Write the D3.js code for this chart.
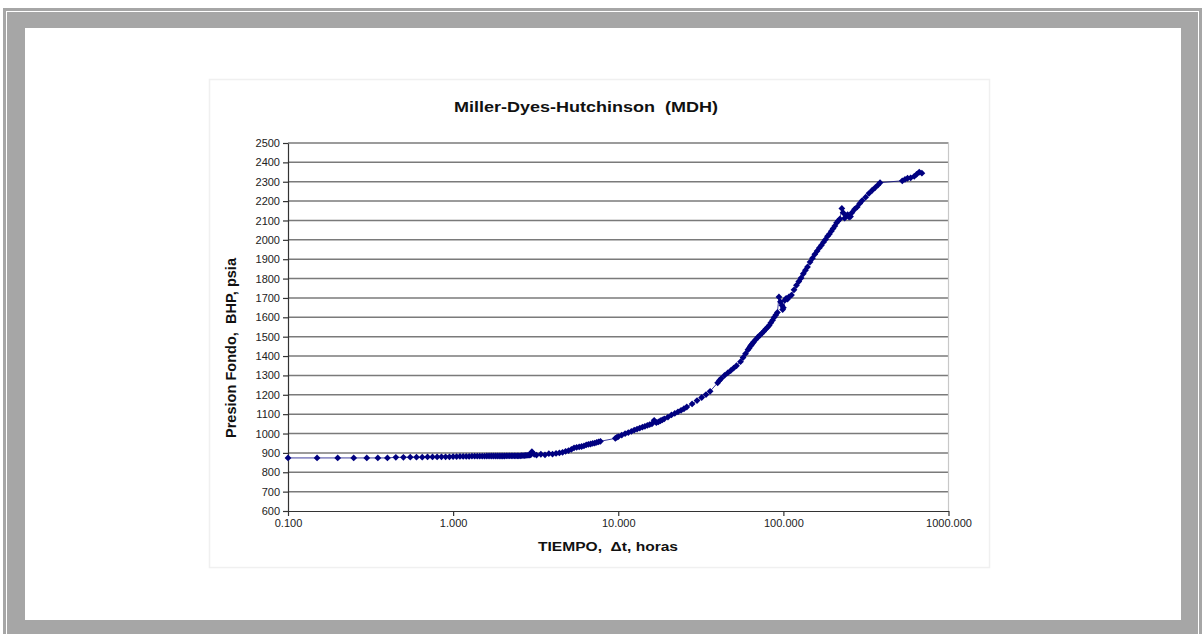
<!DOCTYPE html>
<html>
<head>
<meta charset="utf-8">
<script src="https://cdn.jsdelivr.net/npm/d3@7"></script>
<style>
  html, body { margin: 0; padding: 0; background: #fff; }
  svg { display: block; }
  text { font-family: "Liberation Sans", Arial, sans-serif; }
  .title { white-space: pre; }
</style>
</head>
<body>
<svg id="chart" width="1204" height="634"></svg>
<script>
// Shut-in time (hours) and bottom-hole pressure (psia) for the buildup test
const timeHours = [
  0.10,0.15,0.20,0.25,0.30,0.35,0.40,0.45,0.50,0.55,0.60,0.65,0.70,0.75,0.80,0.85,0.90,0.95,
  1.00,1.05,1.10,1.15,1.20,1.25,1.30,1.35,1.40,1.45,1.50,1.55,1.60,1.65,1.70,1.75,1.80,1.85,1.90,1.95,
  2.00,2.05,2.10,2.15,2.20,2.25,2.30,2.35,2.40,2.45,2.50,2.55,2.60,2.65,2.70,2.75,2.80,2.85,2.90,2.95,
  3.00,3.10,3.20,3.40,3.60,3.80,4.00,4.20,4.40,4.60,4.80,5.00,5.20,5.40,5.60,5.80,6.00,6.20,6.40,6.60,6.80,7.00,7.20,7.40,7.60,7.80,
  9.6,9.8,10,10.5,11,11.5,12,12.5,13,13.5,14,14.5,15,15.5,16,16.5,17,17.5,18,18.5,19,20,21,22,23,24,25,26,28,30,32,34,36,
  40,41,42,44,46,48,50,52,55,57,59,61,62,63,64,65,66,68,70,72,74,76,78,80,82,84,86,88,90,92,
  94,96,98,99,100,102,104,106,108,112,116,120,124,128,132,136,140,145,150,155,160,165,170,175,180,185,190,195,200,
  205,210,215,220,226,230,235,240,245,250,255,260,270,280,290,300,315,330,345,360,375,385,
  525,545,565,590,620,640,665,690
];
const pressurePsia = [
  874,874,874,874,874,874,874,877,877,878,878,878,879,879,879,880,880,880,
  881,881,882,882,882,882,883,883,883,883,883,883,884,884,884,884,884,884,884,884,
  884,884,885,885,885,885,885,885,885,885,885,885,886,886,886,887,887,888,889,890,
  906,892,889,893,890,896,894,897,900,903,908,912,918,926,929,931,933,936,941,944,946,949,951,954,957,960,
  975,980,984,992,999,1005,1011,1018,1023,1028,1033,1037,1042,1046,1050,1068,1056,1060,1066,1071,1076,1085,1096,1104,1112,1120,1128,1137,1153,1170,1186,1201,1218,
  1262,1274,1284,1300,1313,1325,1338,1350,1371,1392,1412,1432,1440,1450,1457,1465,1472,1485,1497,1507,1517,1527,1538,1548,1558,1572,1585,1600,1612,1625,
  1705,1680,1662,1640,1650,1688,1698,1694,1705,1715,1742,1765,1785,1803,1825,1843,1860,1885,1905,1925,1942,1958,1972,1988,2002,2018,2030,2045,2058,
  2072,2088,2098,2108,2162,2140,2112,2124,2130,2118,2120,2140,2158,2170,2188,2203,2220,2240,2256,2270,2284,2295,
  2305,2312,2318,2320,2328,2338,2350,2344
];
const xTickValues = [0.1, 1, 10, 100, 1000];
const yTickValues = [600,700,800,900,1000,1100,1200,1300,1400,1500,1600,1700,1800,1900,2000,2100,2200,2300,2400,2500];

const chartTitle = "Miller-Dyes-Hutchinson  (MDH)";
const xTitle = "TIEMPO,  \u0394t, horas";
const yTitle = "Presion Fondo,  BHP, psia";

const points = timeHours.map((t, i) => ({ t, p: pressurePsia[i] }));

const svg = d3.select("#chart");

// Window frame
svg.append("rect").attr("x", 3).attr("y", 8).attr("width", 1199).attr("height", 626).attr("fill", "#a6a6a6");
svg.append("rect").attr("x", 6.5).attr("y", 11.5).attr("width", 1192).attr("height", 630)
  .attr("fill", "none").attr("stroke", "#ffffff").attr("stroke-width", 1);
svg.append("rect").attr("x", 25).attr("y", 28).attr("width", 1156).attr("height", 592).attr("fill", "#ffffff");

// Chart area
svg.append("rect").attr("x", 209.5).attr("y", 79.5).attr("width", 780).attr("height", 488)
  .attr("fill", "#ffffff").attr("stroke", "#f0f0f0").attr("stroke-width", 1.5);

const plot = { left: 288, right: 948.5, top: 143, bottom: 511 };

const x = d3.scaleLog().domain([0.1, 1000]).range([plot.left, plot.right]);
const y = d3.scaleLinear().domain([600, 2500]).range([plot.bottom, plot.top]);

// Horizontal gridlines
svg.append("g").selectAll("line").data(yTickValues.filter(v => v > 600)).join("line")
  .attr("x1", plot.left).attr("x2", plot.right)
  .attr("y1", d => y(d)).attr("y2", d => y(d))
  .attr("stroke", "#7a7a7a").attr("stroke-width", 1.5);

// Right border of the plot area
svg.append("line").attr("x1", plot.right).attr("x2", plot.right)
  .attr("y1", plot.top).attr("y2", plot.bottom)
  .attr("stroke", "#c8c8c8").attr("stroke-width", 1.2);

// Axes
const yAxis = svg.append("g").attr("transform", `translate(${plot.left},0)`)
  .call(d3.axisLeft(y).tickValues(yTickValues).tickSize(5).tickSizeOuter(0).tickPadding(3).tickFormat(d3.format("d")));
const xAxis = svg.append("g").attr("transform", `translate(0,${plot.bottom})`)
  .call(d3.axisBottom(x).tickValues(xTickValues).tickSize(5).tickSizeOuter(0).tickPadding(3).tickFormat(d => d.toFixed(3)));

[yAxis, xAxis].forEach(a => {
  a.select(".domain").attr("stroke", "#333").attr("stroke-width", 1.2);
  a.selectAll(".tick line").attr("stroke", "#333").attr("stroke-width", 1.2);
  a.selectAll(".tick text").attr("fill", "#222").attr("font-size", "11px")
    .attr("font-family", "'Liberation Sans', Arial, sans-serif");
});

// Data line
const line = d3.line().x(d => x(d.t)).y(d => y(d.p));
svg.append("path").datum(points).attr("d", line)
  .attr("fill", "none").attr("stroke", "#000080").attr("stroke-width", 1).attr("stroke-opacity", 0.75);

// Diamond markers
const diamond = d3.symbol().type(d3.symbolSquare).size(23);
svg.append("g").selectAll("path").data(points).join("path")
  .attr("d", diamond)
  .attr("transform", d => `translate(${x(d.t)},${y(d.p)}) rotate(45)`)
  .attr("fill", "#000080");

// Titles
svg.append("text").attr("class", "title").attr("x", 586).attr("y", 112).attr("text-anchor", "middle")
  .attr("font-size", "15.5px").attr("font-weight", "bold").attr("fill", "#111")
  .attr("textLength", 264).attr("lengthAdjust", "spacingAndGlyphs").text(chartTitle);
svg.append("text").attr("class", "title").attr("x", 608).attr("y", 551).attr("text-anchor", "middle")
  .attr("font-size", "13px").attr("font-weight", "bold").attr("fill", "#111")
  .attr("textLength", 140).attr("lengthAdjust", "spacingAndGlyphs").text(xTitle);
svg.append("text").attr("class", "title").attr("transform", "translate(236,348) rotate(-90)").attr("text-anchor", "middle")
  .attr("font-size", "14px").attr("font-weight", "bold").attr("fill", "#111")
  .attr("textLength", 180).attr("lengthAdjust", "spacingAndGlyphs").text(yTitle);
</script>
</body>
</html>
